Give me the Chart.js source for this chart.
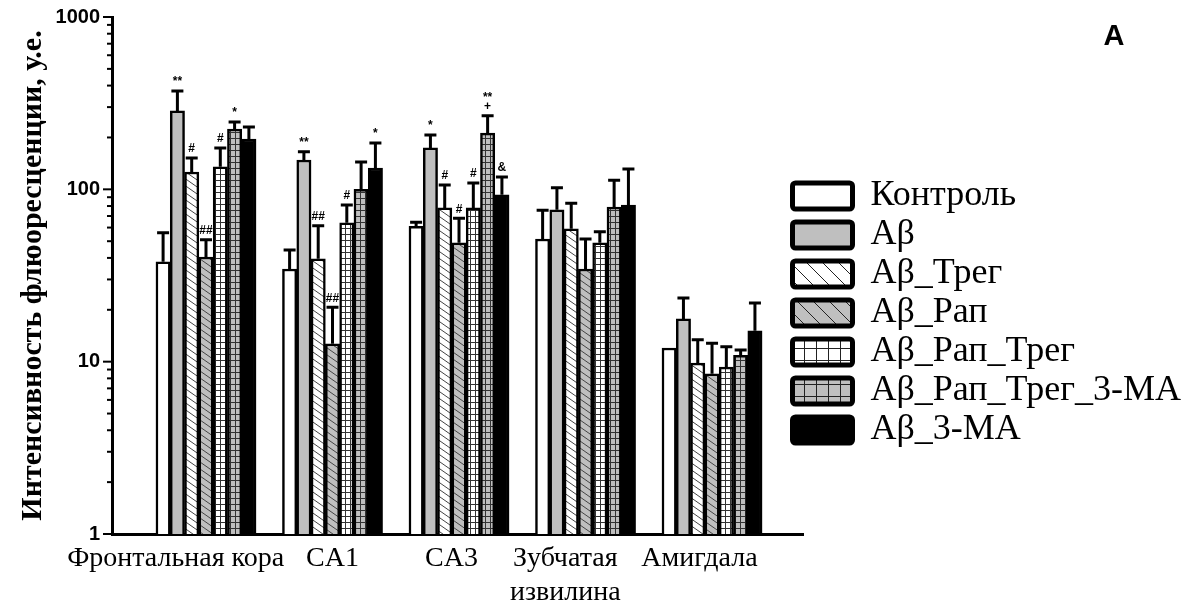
<!DOCTYPE html>
<html>
<head>
<meta charset="utf-8">
<script src="https://cdn.jsdelivr.net/npm/chart.js@4.4.1/dist/chart.umd.min.js"></script>
<style>
  html, body { margin: 0; padding: 0; background: #fff; }
  #wrap { width: 1202px; height: 605px; }
</style>
</head>
<body>
<div id="wrap"><canvas id="myChart" width="1202" height="605"></canvas></div>
<script>
// regions along the x axis
const regions = ['Фронтальная кора', 'CA1', 'CA3', ['Зубчатая', 'извилина'], 'Амигдала'];
const groupNames = ['Контроль', 'Aβ', 'Aβ_Трег', 'Aβ_Рап', 'Aβ_Рап_Трег', 'Aβ_Рап_Трег_3-MA', 'Aβ_3-MA'];
const yTicks = [1, 10, 100, 1000];

// mean values
const control    = [38, 34.5, 61, 51.5, 12];
const abeta      = [285, 148, 174, 76, 17.7];
const abTreg     = [126, 39.5, 78, 59, 9.8];
const abRap      = [40.5, 12.7, 49, 34.5, 8.5];
const abRapTreg  = [135, 64, 78, 49, 9.3];
const abRapTreg3 = [224, 100, 212, 79, 10.9];
const ab3ma      = [196, 133, 93, 81, 15.1];

// upper error (SD)
const controlErr    = [18, 10, 3.5, 24, 0];
const abetaErr      = [87, 17, 33, 26, 5.7];
const abTregErr     = [26, 22, 28, 24, 3.6];
const abRapErr      = [10.5, 8, 19, 17, 4.3];
const abRapTregErr  = [39, 17, 31, 7.7, 2.9];
const abRapTreg3Err = [22, 44, 55, 34, 0.8];
const ab3maErr      = [34, 53, 25, 50, 6.8];

// significance marks
const controlSig    = ['', '', '', '', ''];
const abetaSig      = ['**', '**', '*', '', ''];
const abTregSig     = ['#', '##', '#', '', ''];
const abRapSig      = ['##', '##', '#', '', ''];
const abRapTregSig  = ['#', '#', '#', '', ''];
const abRapTreg3Sig = ['*', '', '**\n+', '', ''];
const ab3maSig      = ['', '*', '&', '', ''];

const seriesValues = [control, abeta, abTreg, abRap, abRapTreg, abRapTreg3, ab3ma];
const seriesErrors = [controlErr, abetaErr, abTregErr, abRapErr, abRapTregErr, abRapTreg3Err, ab3maErr];
const seriesMarks  = [controlSig, abetaSig, abTregSig, abRapSig, abRapTregSig, abRapTreg3Sig, ab3maSig];

// label centres are a bit left of the bar groups in the original
const labelShift = [-0.24, 0.0, -0.06, -0.16, -0.10];

const GRAY = '#bfbfbf';

function hatch(bg, w, h, color) {
    const c = document.createElement('canvas');
    c.width = w; c.height = h;
    const g = c.getContext('2d');
    g.fillStyle = bg; g.fillRect(0, 0, w, h);
    g.strokeStyle = color; g.lineWidth = 1;
    g.beginPath();
    for (let k = -1; k <= 1; k++) {
        g.moveTo(-w, (k - 1) * h);
        g.lineTo(2 * w, (k + 2) * h);
    }
    g.stroke();
    return g.createPattern(c, 'repeat');
}

function grid(bg, w, h, color) {
    const c = document.createElement('canvas');
    c.width = w; c.height = h;
    const g = c.getContext('2d');
    g.fillStyle = bg; g.fillRect(0, 0, w, h);
    g.fillStyle = color;
    g.fillRect(0, 0, w, 1);
    g.fillRect(0, 0, 1, h);
    return g.createPattern(c, 'repeat');
}

const barFills = [
    '#ffffff', GRAY,
    hatch('#ffffff', 10, 7, '#444'), hatch(GRAY, 10, 7, '#444'),
    grid('#ffffff', 5, 6, '#333'), grid(GRAY, 5, 6, '#333'),
    '#000000'
];
const legendFills = [
    '#ffffff', GRAY,
    hatch('#ffffff', 16, 16, '#222'), hatch(GRAY, 16, 16, '#222'),
    grid('#ffffff', 12, 12, '#222'), grid(GRAY, 12, 12, '#222'),
    '#000000'
];

const errorBars = {
    id: 'errorBars',
    afterDatasetsDraw(chart) {
        const ctx = chart.ctx, ys = chart.scales.y;
        ctx.save();
        chart.data.datasets.forEach((ds, di) => {
            const meta = chart.getDatasetMeta(di);
            meta.data.forEach((bar, i) => {
                const e = ds.errors[i];
                const top = ys.getPixelForValue(ds.data[i].y + e);
                if (e > 0) {
                    ctx.strokeStyle = '#000';
                    ctx.lineWidth = 3;
                    ctx.beginPath();
                    ctx.moveTo(bar.x, bar.y);
                    ctx.lineTo(bar.x, top);
                    ctx.moveTo(bar.x - 6, top);
                    ctx.lineTo(bar.x + 6, top);
                    ctx.stroke();
                }
                const m = ds.marks[i];
                if (m) {
                    ctx.fillStyle = '#000';
                    ctx.font = 'bold 12px "Liberation Sans"';
                    ctx.textAlign = 'center';
                    ctx.textBaseline = 'bottom';
                    m.split('\n').reverse().forEach((line, k) => {
                        ctx.fillText(line, bar.x, top - 3 - k * 9);
                    });
                }
            });
        });
        ctx.restore();
    }
};

const yMinorTicks = {
    id: 'yMinorTicks',
    afterDraw(chart) {
        const s = chart.scales.y, ctx = chart.ctx;
        ctx.save();
        ctx.strokeStyle = '#000';
        ctx.lineWidth = 2;
        for (let d = 1; d <= 1000; d *= 10) {
            for (let m = 1; m <= 9; m++) {
                const v = d * m;
                if (v > 1000) break;
                const py = s.getPixelForValue(v);
                const len = m === 1 ? 9 : 5;
                ctx.beginPath();
                ctx.moveTo(s.right, py);
                ctx.lineTo(s.right - len, py);
                ctx.stroke();
            }
        }
        ctx.restore();
    }
};

const panelLetter = {
    id: 'panelLetter',
    afterDraw(chart) {
        const ctx = chart.ctx;
        ctx.save();
        ctx.fillStyle = '#000';
        ctx.font = 'bold 29px "Liberation Sans"';
        ctx.textAlign = 'center';
        ctx.textBaseline = 'alphabetic';
        ctx.fillText('A', 1114, 45);
        ctx.restore();
    }
};

// squeeze legend next to the plot like in the original
const legendPlace = {
    id: 'legendPlace',
    afterInit(chart) {
        const lg = chart.legend;
        const fit = lg.fit.bind(lg);
        lg.fit = function () { fit(); this.width = 399; };
    },
    afterLayout(chart) {
        const lg = chart.legend;
        lg.left -= 13.5; lg.right -= 13.5;
        lg.top += 2; lg.bottom += 2;
    }
};

const ctx = document.getElementById('myChart').getContext('2d');
const myChart = new Chart(ctx, {
    type: 'bar',
    data: {
        datasets: groupNames.map((name, k) => ({
            label: name,
            data: seriesValues[k].map((v, i) => ({ x: i + 1, y: v })),
            errors: seriesErrors[k],
            marks: seriesMarks[k],
            backgroundColor: barFills[k],
            borderColor: '#000',
            borderWidth: 2.5,
            borderSkipped: 'start',
            barThickness: 14.3
        }))
    },
    options: {
        responsive: false,
        animation: false,
        layout: { padding: { top: 17, right: 0, bottom: 0, left: 0 } },
        plugins: {
            tooltip: { enabled: false },
            legend: {
                position: 'right',
                labels: {
                    boxWidth: 60,
                    boxHeight: 26,
                    padding: 3,
                    color: '#000',
                    font: { family: 'Liberation Serif', size: 36 },
                    generateLabels(chart) {
                        return chart.data.datasets.map((ds, i) => ({
                            text: ds.label,
                            fillStyle: legendFills[i],
                            strokeStyle: '#000',
                            lineWidth: 5,
                            borderRadius: 3,
                            fontColor: '#000',
                            hidden: false,
                            datasetIndex: i
                        }));
                    }
                }
            }
        },
        scales: {
            x: {
                type: 'linear',
                offset: false,
                min: 0.257,
                max: 5.719,
                grid: { display: false, drawTicks: false, offset: false },
                border: { display: true, color: '#000', width: 3 },
                afterBuildTicks(s) {
                    s.ticks = regions.map((r, i) => ({ value: i + 1 + labelShift[i] }));
                },
                ticks: {
                    autoSkip: false,
                    maxRotation: 0,
                    padding: 8,
                    color: '#000',
                    font: { family: 'Liberation Serif', size: 28 },
                    callback: (v, i) => regions[i]
                },
                afterFit(s) {
                    s.height = 71;
                    s.paddingLeft = 0; s.paddingRight = 0;
                }
            },
            y: {
                type: 'logarithmic',
                min: 1,
                max: 1000,
                grid: { display: false, drawTicks: false },
                border: { display: true, color: '#000', width: 3 },
                afterBuildTicks(s) {
                    s.ticks = yTicks.map(v => ({ value: v, major: true }));
                },
                ticks: {
                    padding: 12,
                    color: '#000',
                    font: { family: 'Liberation Sans', size: 20, weight: 'bold' },
                    callback: v => String(v)
                },
                title: {
                    display: true,
                    text: 'Интенсивность флюоресценции, у.е.',
                    color: '#000',
                    font: { family: 'Liberation Serif', size: 30, weight: 'bold' },
                    padding: { top: 15, bottom: 0 }
                },
                afterFit(s) {
                    s.width = 112;
                    s.paddingTop = 0; s.paddingBottom = 0;
                }
            }
        }
    },
    plugins: [errorBars, yMinorTicks, panelLetter, legendPlace]
});
</script>
</body>
</html>
